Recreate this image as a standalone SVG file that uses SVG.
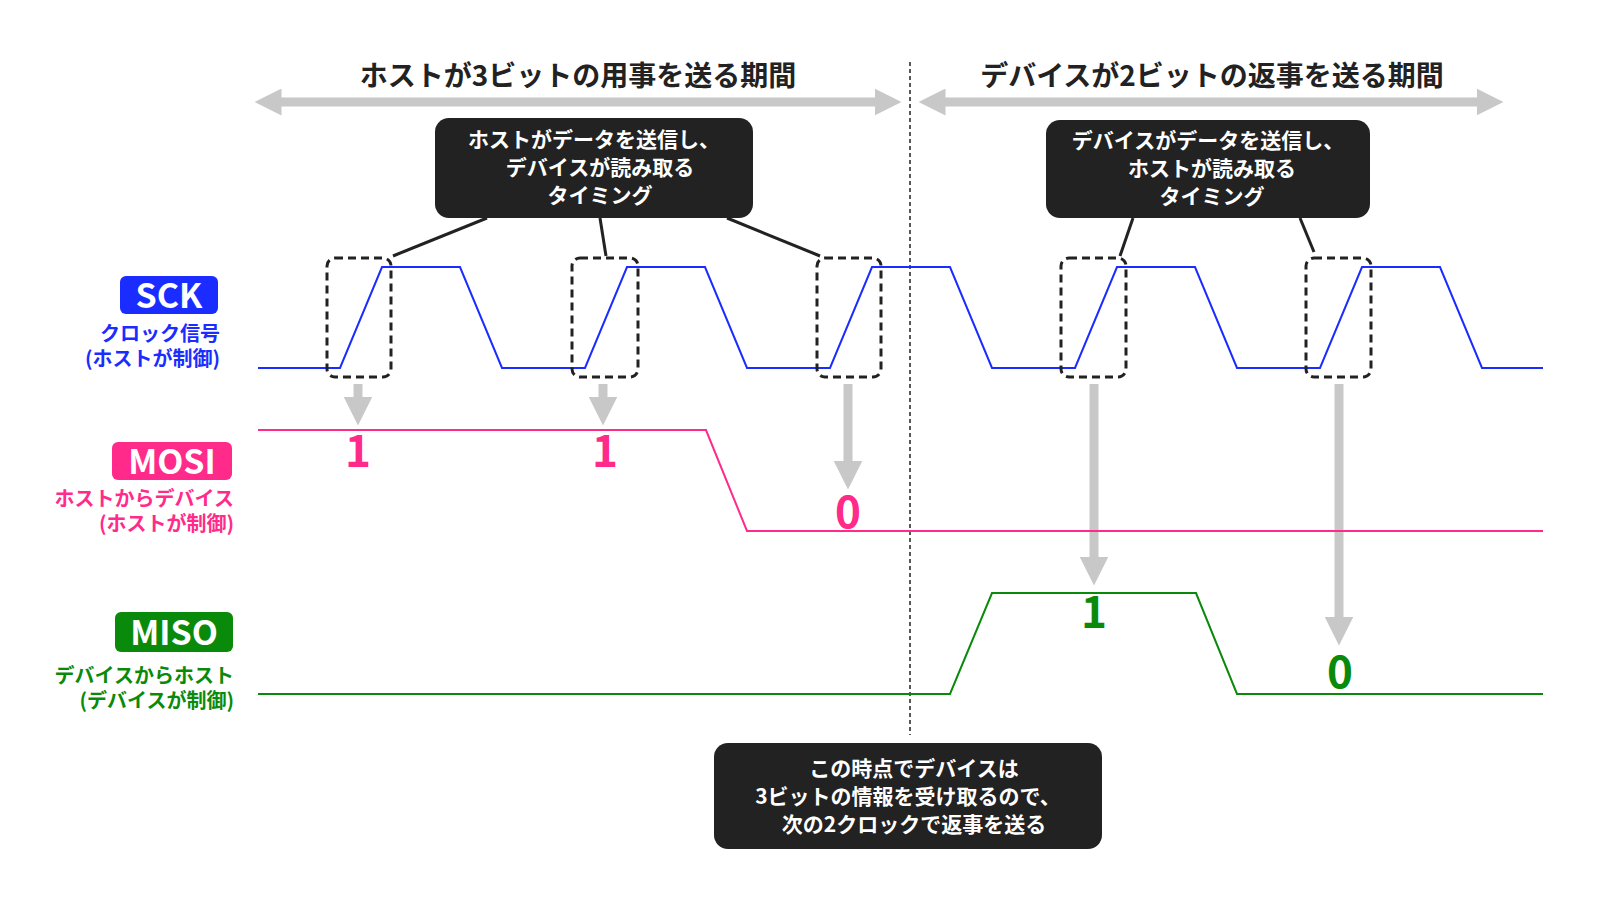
<svg xmlns="http://www.w3.org/2000/svg" width="1624" height="914" viewBox="0 0 1624 914">
<style>
text{font-family:"Noto Sans CJK JP","Noto Sans",sans-serif;font-weight:bold}
.hd{font-size:28px;fill:#222;text-anchor:middle}
.cb{fill:#222}
.ct{font-size:21px;fill:#fff;text-anchor:middle}
.lbl{font-size:20px;text-anchor:end}
.tag{font-size:34px;fill:#fff;text-anchor:middle}
.dig{font-size:44px;text-anchor:middle}
.ga{stroke:#c8c8c8;stroke-width:9;fill:none}
.db{fill:none;stroke:#222;stroke-width:3;stroke-dasharray:8 5}
.ln{stroke:#222;stroke-width:3}
</style>
<defs>
<marker id="ah" viewBox="0 0 10 10" refX="6" refY="5" markerWidth="3.2" markerHeight="3.2" orient="auto-start-reverse"><path d="M0,0L10,5L0,10z" fill="#c8c8c8"/></marker>
<marker id="hh" viewBox="0 0 10 10" refX="5" refY="5" markerWidth="3" markerHeight="3" orient="auto-start-reverse"><path d="M0,0L10,5L0,10z" fill="#c8c8c8"/></marker>
</defs>
<g id="headers">
<text class="hd" x="578" y="86">ホストが3ビットの用事を送る期間</text>
<path class="ga" d="M268,102H888" marker-start="url(#hh)" marker-end="url(#hh)" stroke-width="7"/>
<text class="hd" x="1212" y="86">デバイスが2ビットの返事を送る期間</text>
<path class="ga" d="M932,102H1490" marker-start="url(#hh)" marker-end="url(#hh)" stroke-width="7"/>
</g>
<line x1="910" y1="62" x2="910" y2="735" stroke="#222" stroke-width="1.5" stroke-dasharray="4 3"/>
<g id="connectors">
<line class="ln" x1="487" y1="218" x2="393" y2="256"/>
<line class="ln" x1="600" y1="218" x2="606" y2="256"/>
<line class="ln" x1="727" y1="218" x2="820" y2="256"/>
<line class="ln" x1="1133" y1="218" x2="1120" y2="256"/>
<line class="ln" x1="1300" y1="218" x2="1314" y2="252"/>
<path class="ga" d="M358,384V414" marker-end="url(#ah)"/>
<path class="ga" d="M603,384V414" marker-end="url(#ah)"/>
<path class="ga" d="M848,384V478" marker-end="url(#ah)"/>
<path class="ga" d="M1094,384V574" marker-end="url(#ah)"/>
<path class="ga" d="M1339,384V634" marker-end="url(#ah)"/>
</g>
<g id="sck">
<polyline fill="none" stroke="#1a2cff" stroke-width="2" points="258,368 340,368 382,267 460,267 502,368 585,368 627,267 705,267 747,368 830,368 872,267 950,267 992,368 1075,368 1117,267 1195,267 1237,368 1320,368 1362,267 1440,267 1482,368 1543,368"/>
<rect x="120" y="276" width="98" height="38" rx="6" fill="#1a2cff"/>
<text class="tag" x="169" y="308">SCK</text>
<text class="lbl" x="220" y="341" fill="#1a2cff">クロック信号</text>
<text class="lbl" x="220" y="366" fill="#1a2cff">(ホストが制御)</text>
</g>
<g id="mosi">
<polyline fill="none" stroke="#ff2a8a" stroke-width="2" points="258,430 706,430 747,531 1543,531"/>
<rect x="112" y="442" width="120" height="38" rx="6" fill="#ff2a8a"/>
<text class="tag" x="172" y="474">MOSI</text>
<text class="lbl" x="234" y="506" fill="#ff2a8a">ホストからデバイス</text>
<text class="lbl" x="234" y="531" fill="#ff2a8a">(ホストが制御)</text>
<text class="dig" x="358" y="467" fill="#ff2a8a">1</text>
<text class="dig" x="605" y="467" fill="#ff2a8a">1</text>
<text class="dig" x="848" y="528" fill="#ff2a8a">0</text>
</g>
<g id="miso">
<polyline fill="none" stroke="#0a8a0a" stroke-width="2" points="258,694 950,694 992,593 1196,593 1237,694 1543,694"/>
<rect x="115" y="612" width="118" height="40" rx="6" fill="#0a8a0a"/>
<text class="tag" x="174" y="645">MISO</text>
<text class="lbl" x="234" y="683" fill="#0a8a0a">デバイスからホスト</text>
<text class="lbl" x="234" y="708" fill="#0a8a0a">(デバイスが制御)</text>
<text class="dig" x="1094" y="628" fill="#0a8a0a">1</text>
<text class="dig" x="1340" y="688" fill="#0a8a0a">0</text>
</g>
<g id="edges">
<rect class="db" x="327" y="258" width="64" height="119" rx="8"/>
<rect class="db" x="572" y="258" width="66" height="119" rx="8"/>
<rect class="db" x="817" y="258" width="64" height="119" rx="8"/>
<rect class="db" x="1061" y="258" width="65" height="119" rx="8"/>
<rect class="db" x="1306" y="258" width="65" height="119" rx="8"/>
</g>
<g id="callout1">
<rect class="cb" x="435" y="118" width="318" height="100" rx="14"/>
<text class="ct" x="594" y="147">ホストがデータを送信し、</text>
<text class="ct" x="600" y="175">デバイスが読み取る</text>
<text class="ct" x="600" y="203">タイミング</text>
</g>
<g id="callout2">
<rect class="cb" x="1046" y="120" width="324" height="98" rx="14"/>
<text class="ct" x="1208" y="148">デバイスがデータを送信し、</text>
<text class="ct" x="1212" y="176">ホストが読み取る</text>
<text class="ct" x="1212" y="204">タイミング</text>
</g>
<g id="callout3">
<rect class="cb" x="714" y="743" width="388" height="106" rx="14"/>
<text class="ct" x="914" y="776">この時点でデバイスは</text>
<text class="ct" x="908" y="804">3ビットの情報を受け取るので、</text>
<text class="ct" x="914" y="832">次の2クロックで返事を送る</text>
</g>
</svg>
